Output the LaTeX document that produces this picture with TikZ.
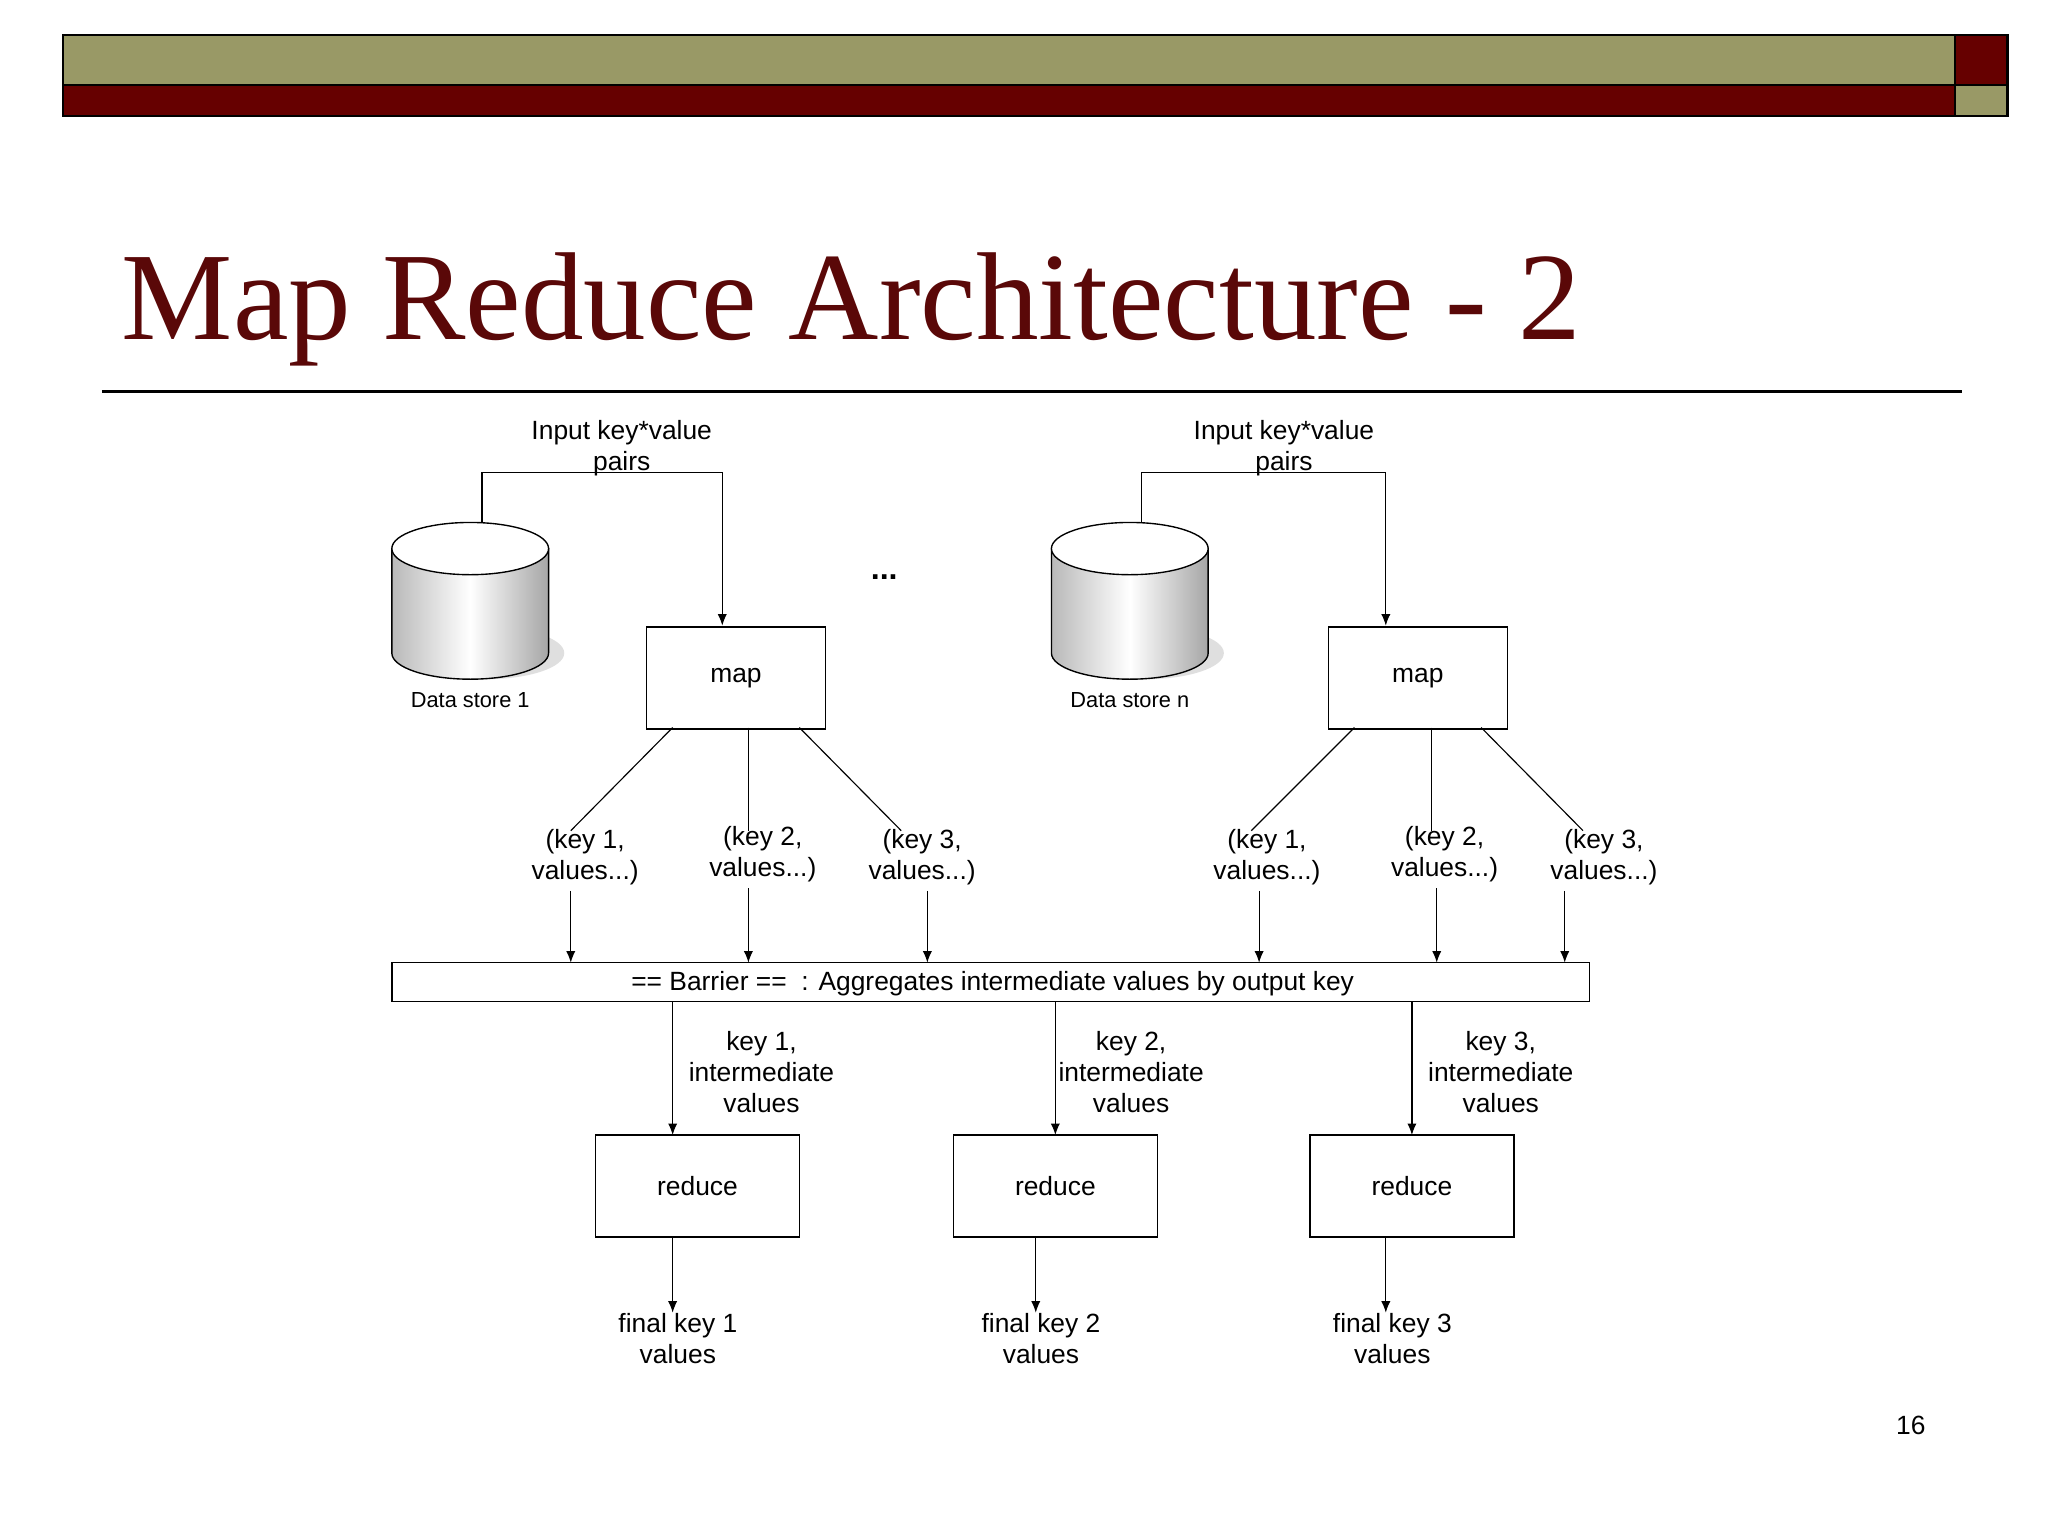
\documentclass[tikz,border=0pt]{standalone}
\usepackage{fontspec}
\setmainfont{Liberation Sans}
\newfontfamily\ttlfont{Liberation Serif}
\usetikzlibrary{arrows.meta}
\definecolor{olive}{HTML}{999966}
\definecolor{dred}{HTML}{660000}
\definecolor{tred}{HTML}{5A0808}
\begin{document}
\begin{tikzpicture}[x=0.02cm,y=-0.02cm,
  box/.style={draw,line width=0.6pt,inner sep=0},
  lbl/.style={font=\fontsize{11.5}{13.5}\selectfont,align=center,inner sep=0},
  arr/.style={-{Latex[length=5pt,width=4pt]},line width=0.5pt},
  ln/.style={line width=0.5pt}]
\useasboundingbox (0,0) rectangle (1568,1176);
\fill[white] (0,0) rectangle (1568,1176);
% header
\filldraw[fill=olive,line width=1pt] (48,27) rectangle (1497,65);
\filldraw[fill=dred,line width=1pt] (48,65) rectangle (1497,89);
\filldraw[fill=dred,line width=1pt] (1497,27) rectangle (1537,65);
\filldraw[fill=olive,line width=1pt] (1497,65) rectangle (1537,89);
\node[anchor=base west,inner sep=0,text=tred,font=\ttlfont\fontsize{54.5}{60}\selectfont] (title) at (93,260) {Map Reduce Architecture - 2};
\draw[line width=1.2pt] (78,300) -- (1502,300);
% cylinders
\foreach \cx/\nm/\lab in {360/ds1/Data store 1, 865/dsn/Data store n}{
  \fill[gray!25] (\cx+12,500) ellipse [x radius=60,y radius=20];
  \shade[left color=gray!55,right color=gray!70,middle color=white,draw,line width=0.6pt]
    (\cx-60,420) -- (\cx-60,500) arc[start angle=180,end angle=360,x radius=60,y radius=-20] -- (\cx+60,420) -- cycle;
  \filldraw[fill=white,line width=0.6pt] (\cx,420) ellipse [x radius=60,y radius=20];
  \coordinate (\nm) at (\cx+9,400.5);
  \node[lbl,font=\fontsize{9.5}{11}\selectfont] (\nm l) at (\cx,536) {\lab};
}
% maps
\node[box,minimum width=137*0.02cm,minimum height=78*0.02cm,lbl] (m1) at (563.5,519) {map};
\node[box,minimum width=137*0.02cm,minimum height=78*0.02cm,lbl] (m2) at (1085.5,519) {map};
\node[lbl] (in1) at (476,343) {Input key*value\\pairs};
\node[lbl] (in2) at (983,343) {Input key*value\\pairs};
\draw[arr] (ds1) -- (ds1 |- 0,362) -| (553,479);
\draw[arr] (dsn) -- (dsn |- 0,362) -| (1061,479);
\node[lbl,font=\bfseries\fontsize{14}{14}\selectfont] (dots) at (677,442) {...};
% barrier
\node[box,minimum width=917*0.02cm,minimum height=30*0.02cm] (bar) at (758.5,752) {};
\node[lbl] (bart) at (760,753) {== Barrier ==~~: Aggregates intermediate values by output key};
% map outputs
\foreach \nm/\sx/\ex/\ax/\lx/\ly/\k in {a/515/437/437/448/656/1, b/573/573/573/584/654/2, c/612/690/710/706/656/3,
  d/1037/958/964/970/656/1, e/1096/1096/1100/1106/654/2, f/1134/1212/1198/1228/656/3}{
  \node[lbl] (k\nm) at (\lx,\ly) {(key \k,\\values...)};
  \draw[ln] (\sx,557) -- (\ex,636);
  \coordinate (s\nm) at (\ax,\ly+26);
  \draw[arr] (s\nm) -- (\ax,737);
}
% reduces
\foreach \nm/\cx/\ax/\lx/\fx/\fl/\k in {1/534/515/583/515/519/1, 2/808/808/866/793/797/2, 3/1081/1081/1149/1061/1066/3}{
  \node[box,minimum width=156*0.02cm,minimum height=78*0.02cm,lbl] (r\nm) at (\cx,908) {reduce};
  \node[lbl] (iv\nm) at (\lx,821) {key \k,\\intermediate\\values};
  \draw[arr] (\ax,767) -- (\ax,869);
  \node[lbl] (f\nm) at (\fl,1025) {final key \k\\values};
  \draw[arr] (\fx,947) -- (\fx,1005);
}
\node[lbl] (pg) at (1463,1091) {16};
\end{tikzpicture}
\end{document}
